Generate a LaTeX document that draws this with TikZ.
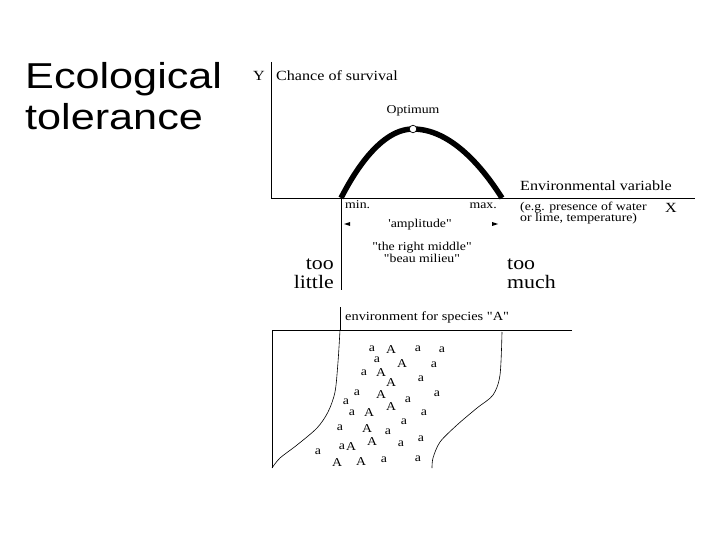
\documentclass[tikz,border=0pt]{standalone}
\usepackage{fontspec}
\setmainfont{Liberation Serif}
\newfontfamily\titlefont[FakeStretch=1.2]{Liberation Sans}
\newfontfamily\figfont[FakeStretch=1.15]{Liberation Serif}
\begin{document}
\begin{tikzpicture}[x=1pt,y=-1pt,
    axis/.style={line width=0.8pt},
    lbl/.style={inner sep=0pt,anchor=base west,font=\figfont\fontsize{14}{16}\selectfont},
    small/.style={inner sep=0pt,font=\figfont\fontsize{12}{12}\selectfont},
    big/.style={inner sep=0pt,font=\figfont\fontsize{19}{19}\selectfont},
    spec/.style={inner sep=0pt,anchor=base,font=\figfont\fontsize{12}{12}\selectfont}]
  \useasboundingbox (0,0) rectangle (720,540);
  % title
  \node[anchor=base west,inner sep=0pt,font=\titlefont\fontsize{36}{41}\selectfont]
    (title) at (25,89) {Ecological};
  \node[anchor=base west,inner sep=0pt,font=\titlefont\fontsize{36}{41}\selectfont]
    (title2) at (25,130) {tolerance};
  % upper graph: axes
  \coordinate (origin) at (271,198);
  \coordinate (ytop) at (271,62);
  \coordinate (xend) at (695,198);
  \coordinate (minpt) at (341,198);
  \coordinate (maxpt) at (502,198);
  \coordinate (minlow) at (341,290);
  \draw[axis] (ytop) -- (origin) -- (xend);
  \draw[axis] (minpt) -- (minlow);
  \node[lbl,anchor=base east] (ylab) at (265,81) {Y};
  \node[lbl] (chance) at (276,81) {Chance of survival};
  \node[lbl] (envvar) at (520,191) {Environmental variable};
  \node[lbl] (xlab) at (665,212) {X};
  \node[small,anchor=base west] (eg) at (520,211) {(e.g. presence of water};
  \node[small,anchor=base west] (eg2) at (520,222) {or lime, temperature)};
  % tolerance curve
  \draw[line width=5.5pt] (minpt) parabola bend (413,129) (maxpt);
  \node[circle,draw,fill=white,line width=0.7pt,inner sep=0pt,minimum size=7.5pt] (opt) at (413,129) {};
  \node[small,anchor=base] (optlab) at (413,114) {Optimum};
  \node[small,anchor=base west] (minlab) at (345,208) {min.};
  \node[small,anchor=base east] (maxlab) at (497,208) {max.};
  \node[small,anchor=base] (ampl) at (420,227) {'amplitude"};
  \fill (344,224) -- ++(6,-2) -- ++(0,4) -- cycle;
  \fill (498,224) -- ++(-6,-2) -- ++(0,4) -- cycle;
  \node[small,anchor=base] (middle) at (422,251) {"the right middle"};
  \node[small,anchor=base] (middle2) at (422,262) {"beau milieu"};
  \node[big,anchor=base east] (little) at (334,269) {too};
  \node[big,anchor=base east] (little2) at (334,288) {little};
  \node[big,anchor=base west] (much) at (507,269) {too};
  \node[big,anchor=base west] (much2) at (507,288) {much};
  % lower graph
  \coordinate (envtop) at (340,307);
  \coordinate (envbase) at (340,330);
  \coordinate (hleft) at (272,330);
  \coordinate (hright) at (572,330);
  \coordinate (vlow) at (272,468);
  \draw[axis] (envtop) -- (envbase);
  \draw[axis] (hright) -- (hleft) -- (vlow);
  \node[lbl,font=\figfont\fontsize{12.5}{14}\selectfont] (envlab) at (345,320) {environment for species "A"};
  \draw[line width=0.6pt] plot[smooth] coordinates {(340,330) (338,362) (335,392) (328,412)
    (317,428) (297,445) (280,458) (272,468)};
  \draw[line width=0.6pt] plot[smooth] coordinates {(502,332) (500,375) (493,395) (477,408)
    (457,425) (440,442) (433,458) (432,468)};
  \foreach \x/\y/\t [count=\i] in {372/351/a, 391/353/A, 418/351/a, 442/352/a, 377/362/a,
      402/367/A, 434/367/a, 364/375/a, 381/376/A, 421/381/a, 391/386/A, 357/395/a,
      437/396/a, 346/404/a, 381/398/A, 408/402/a, 391/410/A, 352/415/a, 369/416/A,
      424/415/a, 404/424/a, 340/430/a, 367/432/A, 388/434/a, 421/441/a, 372/445/A,
      401/446/a, 342/449/a, 351/450/A, 318/454/a, 337/466/A, 361/465/A, 384/462/a, 418/461/a}
    \node[spec] (sp\i) at (\x,\y) {\t};
\end{tikzpicture}
\end{document}
